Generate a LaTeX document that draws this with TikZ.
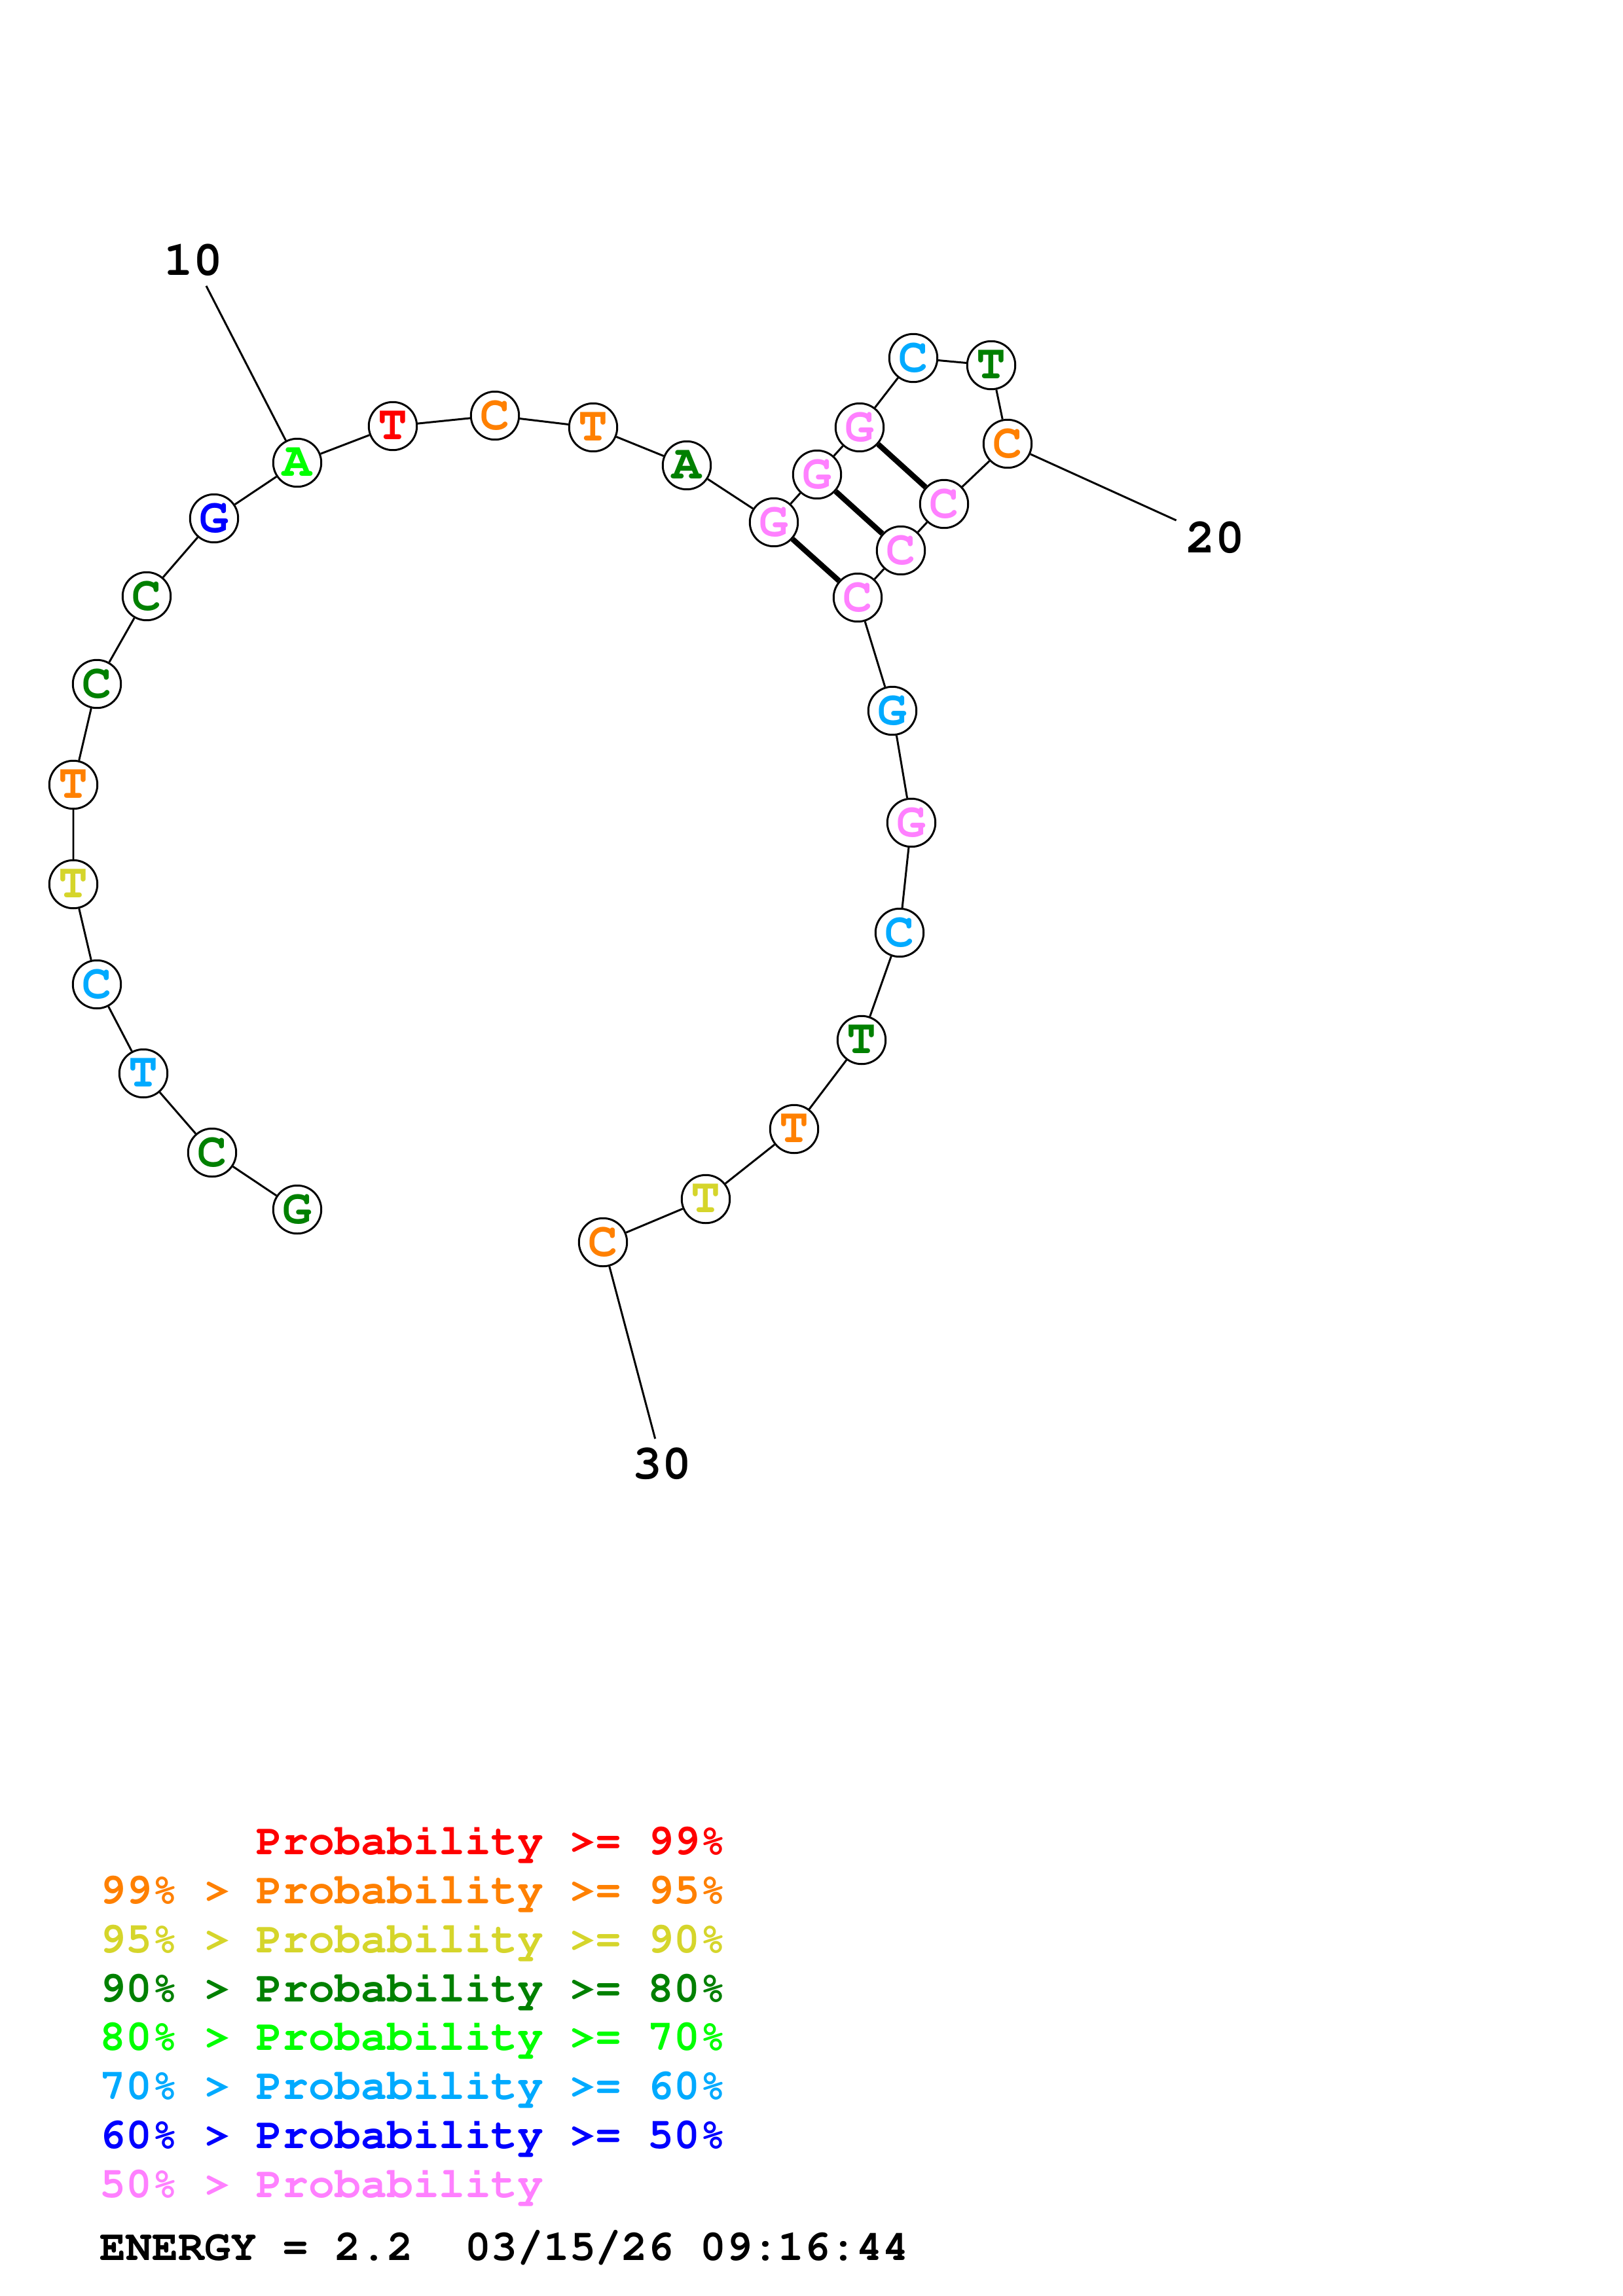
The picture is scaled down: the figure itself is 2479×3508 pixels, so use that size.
\documentclass[tikz,border=0pt]{standalone}
\usepackage[T1]{fontenc}
\usepackage{courier}
\usepackage{tikz}
\definecolor{pred}{HTML}{FF0000}
\definecolor{porange}{HTML}{FF8000}
\definecolor{pyellow}{HTML}{D5D52B}
\definecolor{pdkgreen}{HTML}{008000}
\definecolor{pgreen}{HTML}{00FF00}
\definecolor{plblue}{HTML}{00AAFF}
\definecolor{pblue}{HTML}{0000FF}
\definecolor{ppink}{HTML}{FF80FF}
\tikzset{
  base/.style={circle,draw,line width=0.72pt,fill=white,inner sep=0pt,minimum size=17.7pt,
    font=\fontsize{18}{18}\selectfont\ttfamily\bfseries},
  numlabel/.style={inner sep=3.3pt,font=\fontsize{18}{18}\selectfont\ttfamily\bfseries},
  legend/.style={anchor=base west,inner sep=0pt,font=\fontsize{16}{16}\selectfont\ttfamily\bfseries},
  bond/.style={line width=0.72pt},
  pairbond/.style={line width=2pt}
}

\begin{document}
\begin{tikzpicture}[x=0.2409pt,y=-0.2409pt]
                \useasboundingbox (0,0) rectangle (2479,3508);
                % bases
                \node[base,text=pdkgreen] (n1) at (454,1848) {G};
                \node[base,text=pdkgreen] (n2) at (324,1761) {C};
                \node[base,text=plblue] (n3) at (219,1640) {T};
                \node[base,text=plblue] (n4) at (148,1504) {C};
                \node[base,text=pyellow] (n5) at (112,1351) {T};
                \node[base,text=porange] (n6) at (112,1199) {T};
                \node[base,text=pdkgreen] (n7) at (148,1045) {C};
                \node[base,text=pdkgreen] (n8) at (224,911) {C};
                \node[base,text=pblue] (n9) at (327,792) {G};
                \node[base,text=pgreen] (n10) at (454,707) {A};
                \node[base,text=pred] (n11) at (600,651) {T};
                \node[base,text=porange] (n12) at (756,635) {C};
                \node[base,text=porange] (n13) at (906,653) {T};
                \node[base,text=pdkgreen] (n14) at (1049,711) {A};
                \node[base,text=ppink] (n15) at (1182,798) {G};
                \node[base,text=ppink] (n16) at (1248,725) {G};
                \node[base,text=ppink] (n17) at (1313,653) {G};
                \node[base,text=plblue] (n18) at (1395,547) {C};
                \node[base,text=pdkgreen] (n19) at (1514,558) {T};
                \node[base,text=porange] (n20) at (1539,678) {C};
                \node[base,text=ppink] (n21) at (1442,770) {C};
                \node[base,text=ppink] (n22) at (1376,841) {C};
                \node[base,text=ppink] (n23) at (1310,913) {C};
                \node[base,text=plblue] (n24) at (1363,1086) {G};
                \node[base,text=ppink] (n25) at (1392,1257) {G};
                \node[base,text=plblue] (n26) at (1374,1425) {C};
                \node[base,text=pdkgreen] (n27) at (1316,1589) {T};
                \node[base,text=porange] (n28) at (1213,1725) {T};
                \node[base,text=pyellow] (n29) at (1078,1832) {T};
                \node[base,text=porange] (n30) at (921,1898) {C};
                % backbone
                \draw[bond] (n1) -- (n2) -- (n3) -- (n4) -- (n5) -- (n6) -- (n7) -- (n8) -- (n9) -- (n10)
                    -- (n11) -- (n12) -- (n13) -- (n14) -- (n15) -- (n16) -- (n17) -- (n18) -- (n19) -- (n20)
                    -- (n21) -- (n22) -- (n23) -- (n24) -- (n25) -- (n26) -- (n27) -- (n28) -- (n29) -- (n30);
                % pairs
                \draw[pairbond] (n15) -- (n23);
                \draw[pairbond] (n16) -- (n22);
                \draw[pairbond] (n17) -- (n21);
                % numbering
                \node[numlabel] (l10) at (295,398) {10};
                \node[numlabel] (l20) at (1856,822) {20};
                \node[numlabel] (l30) at (1011,2237) {30};
                \draw[bond] (n10) -- (l10);
                \draw[bond] (n20) -- (l20);
                \draw[bond] (n30) -- (l30);
                % legend
                \node[legend,text=pred] (k1) at (152,2833) {\phantom{99\% > }Probability >= 99\%};
                \node[legend,text=porange] (k2) at (152,2908) {99\% > Probability >= 95\%};
                \node[legend,text=pyellow] (k3) at (152,2983) {95\% > Probability >= 90\%};
                \node[legend,text=pdkgreen] (k4) at (152,3058) {90\% > Probability >= 80\%};
                \node[legend,text=pgreen] (k5) at (152,3132) {80\% > Probability >= 70\%};
                \node[legend,text=plblue] (k6) at (152,3207) {70\% > Probability >= 60\%};
                \node[legend,text=pblue] (k7) at (152,3282) {60\% > Probability >= 50\%};
                \node[legend,text=ppink] (k8) at (152,3357) {50\% > Probability};
                \node[legend] (energy) at (152,3453) {ENERGY = 2.2~~03/15/26 09:16:44};
        \end{tikzpicture}
\end{document}
